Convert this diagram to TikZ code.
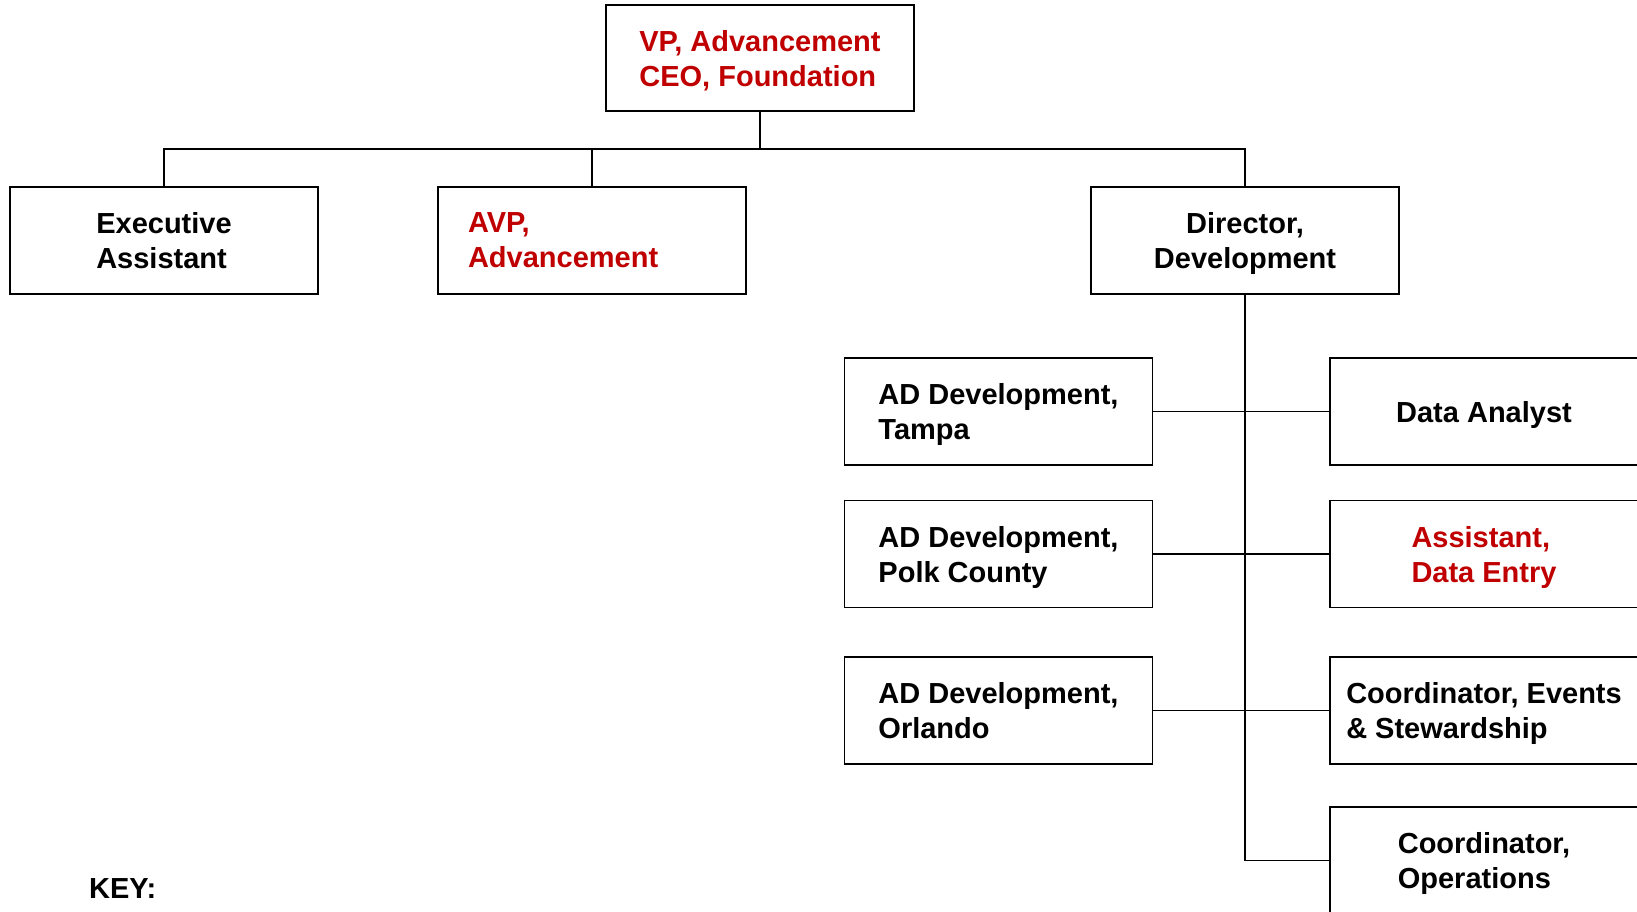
\documentclass[tikz,border=0pt]{standalone}
\usepackage{fontspec}
\setmainfont{Liberation Sans}
\definecolor{dkred}{HTML}{C00000}
\begin{document}
\begin{tikzpicture}[x=1pt,y=-1pt,
  box/.style={draw=black, line width=1.8pt, minimum width=308pt, minimum height=107pt,
    inner sep=0pt, align=left, text depth=0pt, font=\fontsize{29}{35}\selectfont\bfseries},
  redtext/.style={text=dkred},
  conn/.style={draw=black, line width=1.8pt}]
\useasboundingbox (0,0) rectangle (1637,911);
\clip (0,0) rectangle (1637,911);
\fill[white] (0,0) rectangle (1637,911);
% top level
\node[box, redtext, minimum height=106pt] (vp) at (760,58) {VP, Advancement\\CEO, Foundation};
\node[box] (exec) at (164,240.5) {Executive\\Assistant};
\node[box, redtext, text width=248pt, inner xsep=30pt, text depth=] (avp) at (592,240.5) {AVP,\\Advancement};
\node[box, align=center] (dir) at (1245,240.5) {Director,\\Development};
% left column
\node[box] (tampa) at (998.5,411.5) {AD Development,\\Tampa};
\node[box] (polk) at (998.5,554) {AD Development,\\Polk County};
\node[box] (orl) at (998.5,710.5) {AD Development,\\Orlando};
% right column
\node[box] (analyst) at (1484,411.5) {Data Analyst};
\node[box, redtext] (assist) at (1484,554) {Assistant,\\Data Entry};
\node[box] (events) at (1484,710.5) {Coordinator, Events\\\& Stewardship};
\node[box] (ops) at (1484,860.5) {Coordinator,\\Operations};
% key
\node[anchor=base west, inner sep=0pt, font=\fontsize{29}{35}\selectfont\bfseries] (key) at (89,898) {KEY:};
% connectors
\coordinate (bus) at (0,149);
\draw[conn] (vp.south) -- (vp.south |- bus);
\draw[conn] (exec.north) -- (exec.north |- bus) -- (dir.north |- bus) -- (dir.north);
\draw[conn] (avp.north) -- (avp.north |- bus);
\draw[conn] (dir.south) -- (dir.south |- ops.west) -- (ops.west);
\draw[conn] (tampa.east) -- (analyst.west);
\draw[conn] (polk.east) -- (assist.west);
\draw[conn] (orl.east) -- (events.west);
\end{tikzpicture}
\end{document}
